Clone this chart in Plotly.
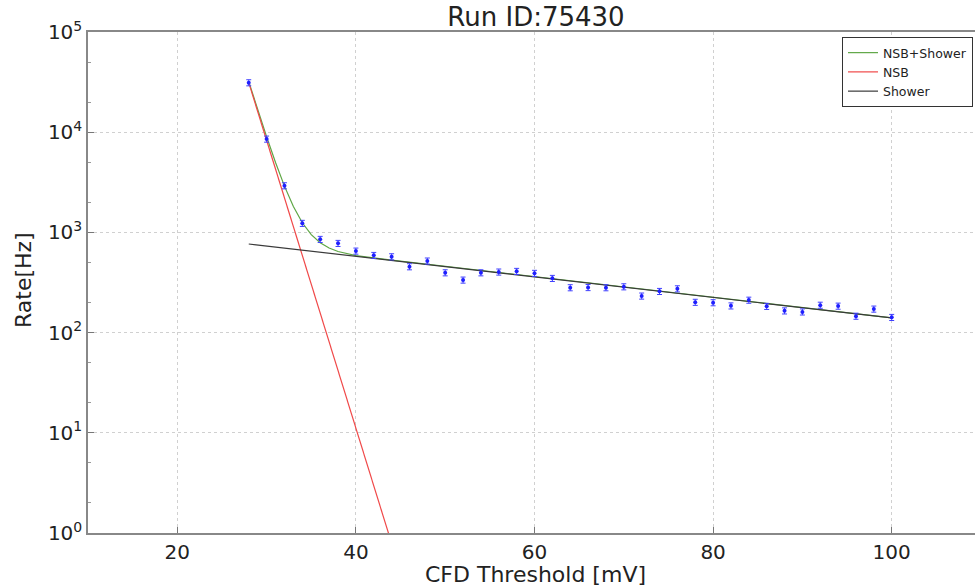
import plotly.graph_objects as go

# Measured rates
threshold_mv = [28, 30, 32, 34, 36, 38, 40, 42, 44, 46, 48, 50, 52, 54, 56, 58, 60, 62, 64,
                66, 68, 70, 72, 74, 76, 78, 80, 82, 84, 86, 88, 90, 92, 94, 96, 98, 100]
rate_hz = [31200, 8550, 2925, 1233, 853, 778, 652, 590, 572, 455, 519, 396, 335, 396, 403,
           409, 391, 348, 281, 282, 281, 287, 232, 258, 274, 201, 199, 185, 211, 183, 165,
           161, 188, 184, 146, 172, 142]

# Fit curves
nsb_x = [28, 46]
nsb_y = [31200, 0.21]
shower_x = [28, 100]
shower_y = [766, 140]
sum_x = [28, 29, 30, 31, 32, 33, 34, 35, 36, 37, 38, 40, 42, 44, 100]
sum_y = [31960, 16820, 9010, 4980, 2895, 1812, 1247, 950, 789, 699, 645, 587, 553, 530, 140]

xticks = [20, 40, 60, 80, 100]
yticks = [1, 10, 100, 1000, 10000, 100000]
yticklabels = ["10<sup>0</sup>", "10<sup>1</sup>", "10<sup>2</sup>", "10<sup>3</sup>",
               "10<sup>4</sup>", "10<sup>5</sup>"]

fig = go.Figure()
fig.add_trace(go.Scatter(x=sum_x, y=sum_y, mode="lines", name="NSB+Shower",
                         line=dict(color="#5ea645", width=1.2)))
fig.add_trace(go.Scatter(x=nsb_x, y=nsb_y, mode="lines", name="NSB",
                         line=dict(color="#f04848", width=1.2)))
fig.add_trace(go.Scatter(x=shower_x, y=shower_y, mode="lines", name="Shower",
                         line=dict(color="#3a3a3a", width=1.2)))
fig.add_trace(go.Scatter(x=threshold_mv, y=rate_hz, mode="markers", showlegend=False,
                         marker=dict(color="#1f1fff", size=4),
                         error_y=dict(type="percent", value=7, color="#4040ff",
                                      thickness=1, width=2.5)))

W = 979  # plot area runs a few px past the 975 px window, as in the cropped original
font = "DejaVu Sans, Liberation Sans, sans-serif"
fig.update_layout(
    width=W, height=586,
    margin=dict(l=88, r=0, t=32, b=53),
    paper_bgcolor="white", plot_bgcolor="white",
    font=dict(family=font, color="#222"),
    title=dict(text="Run ID:75430", x=536 / W, xanchor="center", y=0.972, yanchor="middle",
               font=dict(size=26, color="#222")),
    showlegend=True,
    legend=dict(x=(973 - 88) / (W - 88), xanchor="right", y=0.99, yanchor="top",
                bordercolor="#333", borderwidth=1, bgcolor="white", itemwidth=30,
                font=dict(size=12.5, color="#222"), tracegroupgap=0),
    xaxis=dict(range=[10, 10 + (W - 88) / 8.93], tickvals=xticks, ticks="inside", ticklen=6,
               tickcolor="#777", showline=True, linecolor="#888", linewidth=1.5, mirror=True,
               showgrid=True, gridcolor="#d0d0d0", griddash="dot", zeroline=False,
               tickfont=dict(size=20), automargin=False),
    yaxis=dict(type="log", range=[0, 5], tickvals=yticks, ticktext=yticklabels,
               ticks="inside", ticklen=6, tickcolor="#777",
               showline=True, linecolor="#888", linewidth=1.5,
               showgrid=True, gridcolor="#d0d0d0", griddash="dot", zeroline=False,
               tickfont=dict(size=20), automargin=False,
               minor=dict(ticks="inside", ticklen=3, tickcolor="#999", showgrid=False)),
    annotations=[
        dict(text="CFD Threshold [mV]", xref="paper", yref="paper", x=(535 - 88) / (W - 88),
             y=-0.083, xanchor="center", yanchor="middle", showarrow=False,
             font=dict(size=22)),
        dict(text="Rate[Hz]", xref="paper", yref="paper", x=(24 - 88) / (W - 88), y=0.505,
             xanchor="center", yanchor="middle", textangle=-90, showarrow=False,
             font=dict(size=22)),
    ],
)

fig.write_html("out.html", config={"displayModeBar": False},
               post_script="document.body.style.margin='0';document.body.style.overflow='hidden';")
